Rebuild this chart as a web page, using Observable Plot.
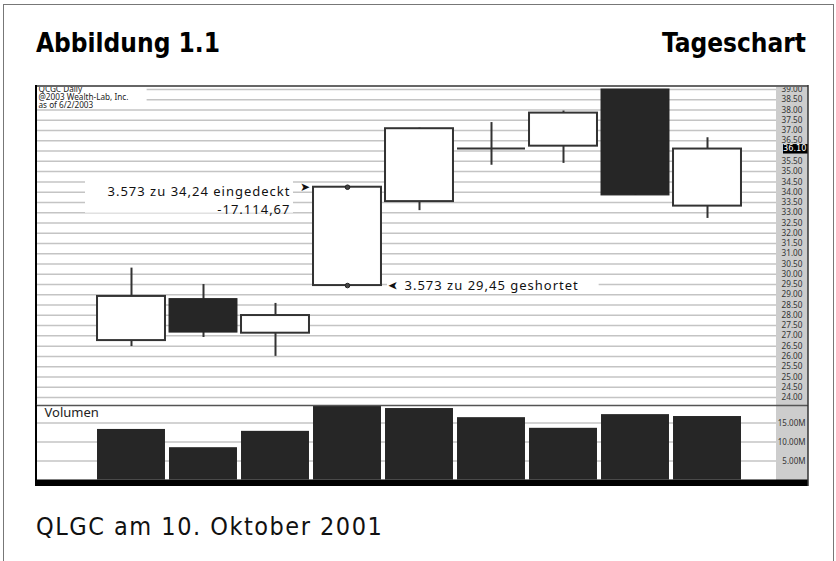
<!DOCTYPE html>
<html><head><meta charset="utf-8">
<script src="https://cdn.jsdelivr.net/npm/d3@7"></script>
<script src="https://cdn.jsdelivr.net/npm/@observablehq/plot@0.6"></script>
<style>
body{margin:0;background:#fff;}
#page{position:relative;width:836px;height:561px;overflow:hidden;font-family:"DejaVu Sans";background:#fff;}
#border{position:absolute;left:3px;top:4px;width:829px;height:600px;border:1.5px solid #777;border-bottom:none;}
.title{position:absolute;top:28px;font:bold 26px "DejaVu Sans Condensed";color:#000;white-space:nowrap;}
#t1{left:36px} #t2{right:30px}
#price{position:absolute;left:0;top:85px}
#vol{position:absolute;left:0;top:405px}
#cap{position:absolute;left:36px;top:512px;font:25px "DejaVu Sans Condensed";letter-spacing:1.5px;color:#111;white-space:nowrap;}
</style></head>
<body>
<div id="page">
  <div id="border"></div>
  <div class="title" id="t1">Abbildung 1.1</div>
  <div class="title" id="t2">Tageschart</div>
  <div id="price"></div>
  <div id="vol"></div>
  <div id="cap">QLGC am 10. Oktober 2001</div>
</div>
<script>
// ---- data ----
const days   = ["05.10.","08.10.","09.10.","10.10.","11.10.","12.10.","15.10.","16.10.","17.10."];
const open   = [26.77, 28.79, 27.13, 29.45, 33.54, 36.13, 36.24, 39.00, 33.32];
const high   = [30.30, 29.50, 28.58, 34.24, 37.12, 37.39, 37.95, 39.00, 36.65];
const low    = [26.48, 26.92, 26.00, 29.45, 33.10, 35.31, 35.40, 33.84, 32.72];
const close  = [28.92, 27.16, 27.99, 34.24, 37.09, 36.13, 37.85, 33.84, 36.10];
const volume = [13.3, 8.5, 12.8, 19.6, 18.8, 16.4, 13.6, 17.2, 16.7]; // millions
const priceTicks = d3.range(24, 39.001, 0.5);
const volumeTicks = [5, 10, 15];
const lastPrice = 36.10;
const header = ["QCGC Daily", "@2003 Wealth-Lab, Inc.", "as of 6/2/2003"];
const tradeDay = 3;
const coverPrice = 34.24, shortPrice = 29.45;
const coverNote = ["3.573 zu 34,24 eingedeckt", "-17.114,67"];
const shortNote = ["3.573 zu 29,45 geshortet"];
const volumeLabel = "Volumen";

// ---- layout / style ----
const W = 836, ML = 36, MR = 60, STRIP = 32;
const xDomain = [-1.3194, 8.9583];
const idx = d3.range(days.length);
const half = 0.472;
const up = idx.filter(i => close[i] > open[i]);
const down = idx.filter(i => close[i] < open[i]);
const doji = idx.filter(i => close[i] === open[i]);
const shownTicks = priceTicks.filter(t => Math.abs(t - lastPrice) > 0.2); // hidden behind the tag
const NOTE_SIZE = 13, NOTE_SPACING = 1, HEAD_SIZE = 8.2;

const ctx = document.createElement("canvas").getContext("2d");
function textWidth(s, size, spacing = 0) {
  ctx.font = `${size}px "DejaVu Sans"`;
  return ctx.measureText(s).width + spacing * s.length;
}

function stripMark() {
  return (index, scales, values, dim) => {
    const g = d3.create("svg:g");
    const xr = dim.width - dim.marginRight;
    g.append("rect").attr("x", xr).attr("y", 0).attr("width", STRIP).attr("height", dim.height).attr("fill", "#cdcdcd");
    return g.node();
  };
}

// white panels behind the texts that interrupt the grid lines
function textBacking(index, scales, values, dim) {
  const g = d3.create("svg:g").attr("fill", "white");
  const hw = d3.max(header, s => textWidth(s, HEAD_SIZE));
  g.append("rect").attr("x", dim.marginLeft + 1).attr("y", 2).attr("width", hw + 12).attr("height", 19);
  const cx = scales.x(tradeDay);
  const cw = d3.max(coverNote, s => textWidth(s, NOTE_SIZE, NOTE_SPACING));
  const cy = scales.y(coverPrice);
  g.append("rect").attr("x", cx - 57 - cw - 6).attr("y", cy - 8).attr("width", cw + 9).attr("height", 34);
  const sw = d3.max(shortNote, s => textWidth(s, NOTE_SIZE, NOTE_SPACING));
  const sy = scales.y(shortPrice);
  g.append("rect").attr("x", cx + 40).attr("y", sy - 7).attr("width", 17 + sw + 6).attr("height", 14);
  return g.node();
}

const price = Plot.plot({
  width: W, height: 320,
  marginLeft: ML, marginRight: MR, marginTop: 0, marginBottom: 0,
  style: {background: "transparent", overflow: "visible"},
  x: {domain: xDomain, axis: null},
  y: {domain: [23.608, 39.195], axis: null},
  marks: [
    stripMark(),
    Plot.ruleY(priceTicks, {stroke: "#c4c4c4", strokeWidth: 1.5}),
    textBacking,
    Plot.text([header.join("\n")], {frameAnchor: "top-left", dx: 2, dy: 0.5, lineAnchor: "top", lineHeight: 0.97,
      fontSize: HEAD_SIZE, fill: "#222", textAnchor: "start"}),
    Plot.ruleX(idx, {x: i => i, y1: i => low[i], y2: i => high[i], stroke: "#333", strokeWidth: 2}),
    Plot.rect(up, {x1: i => i - half, x2: i => i + half, y1: i => open[i], y2: i => close[i], fill: "white", stroke: "#333", strokeWidth: 2}),
    Plot.rect(down, {x1: i => i - half, x2: i => i + half, y1: i => open[i], y2: i => close[i], fill: "#262626", stroke: "#262626", strokeWidth: 1}),
    Plot.ruleY(doji, {x1: i => i - half, x2: i => i + half, y: i => open[i], stroke: "#333", strokeWidth: 2}),
    Plot.dot([coverPrice, shortPrice], {x: () => tradeDay, y: d => d, r: 2.3, fill: "#444", stroke: "#222", strokeWidth: 1}),
    Plot.text([coverNote.join("\n")], {x: () => tradeDay, y: () => coverPrice, dx: -57, dy: -5, lineAnchor: "top", lineHeight: 1.45,
      fontSize: NOTE_SIZE, textAnchor: "end", fill: "#111"}),
    Plot.text(["➤"], {x: () => tradeDay, y: () => coverPrice, dx: -42, fontSize: 12, fill: "#111"}),
    Plot.text(shortNote, {x: () => tradeDay, y: () => shortPrice, dx: 57, textAnchor: "start", fontSize: NOTE_SIZE, fill: "#111"}),
    Plot.text(["➤"], {x: () => tradeDay, y: () => shortPrice, dx: 46, rotate: 180, fontSize: 12, fill: "#111"}),
    Plot.text(shownTicks, {y: d => d, text: d => d.toFixed(2), frameAnchor: "right", dx: 26, textAnchor: "end",
      fontSize: 8.2, fill: "#333"}),
    (index, scales, values, dim) => {
      const g = d3.create("svg:g");
      const xr = dim.width - dim.marginRight;
      const yy = scales.y(lastPrice);
      g.append("rect").attr("x", xr + 7).attr("y", yy - 4.5).attr("width", STRIP - 7).attr("height", 9.5).attr("fill", "#000");
      g.append("text").attr("x", xr + 30.5).attr("y", yy).attr("dy", "0.35em").attr("text-anchor", "end")
        .attr("font-size", 8.2).attr("font-family", "DejaVu Sans").attr("fill", "#fff").text(lastPrice.toFixed(2));
      g.append("line").attr("x1", dim.marginLeft).attr("x2", xr + STRIP).attr("y1", 1).attr("y2", 1).attr("stroke", "#666").attr("stroke-width", 2);
      g.append("line").attr("x1", dim.marginLeft).attr("x2", dim.marginLeft).attr("y1", 0).attr("y2", dim.height).attr("stroke", "#000").attr("stroke-width", 2);
      g.append("line").attr("x1", xr + STRIP).attr("x2", xr + STRIP).attr("y1", 0).attr("y2", dim.height).attr("stroke", "#333").attr("stroke-width", 1.5);
      return g.node();
    }
  ]
});
// letter spacing for the trade notes
const noteLines = new Set([...coverNote, ...shortNote]);
price.querySelectorAll("text").forEach(t => {
  const lines = t.querySelectorAll("tspan").length ? [...t.querySelectorAll("tspan")].map(s => s.textContent) : [t.textContent];
  if (lines.some(l => noteLines.has(l))) t.style.letterSpacing = NOTE_SPACING + "px";
});
document.getElementById("price").appendChild(price);

const vol = Plot.plot({
  width: W, height: 81,
  marginLeft: ML, marginRight: MR, marginTop: 0, marginBottom: 6.5,
  style: {background: "transparent", overflow: "visible"},
  x: {domain: xDomain, axis: null},
  y: {domain: [0, 19.6], axis: null},
  marks: [
    stripMark(),
    Plot.ruleY(volumeTicks, {stroke: "#c4c4c4", strokeWidth: 1.5}),
    Plot.text([volumeLabel], {frameAnchor: "top-left", dx: 8, dy: 2, lineAnchor: "top", fontSize: 13, fill: "#222", textAnchor: "start"}),
    Plot.rect(idx, {x1: i => i - half, x2: i => i + half, y1: 0, y2: i => volume[i], fill: "#262626"}),
    Plot.text(volumeTicks, {y: d => d, text: d => d.toFixed(2) + "M", frameAnchor: "right", dx: 29, textAnchor: "end",
      fontSize: 8, fill: "#333"}),
    (index, scales, values, dim) => {
      const g = d3.create("svg:g");
      const xr = dim.width - dim.marginRight;
      g.append("line").attr("x1", dim.marginLeft).attr("x2", xr + STRIP).attr("y1", 0.5).attr("y2", 0.5).attr("stroke", "#555").attr("stroke-width", 1.5);
      g.append("rect").attr("x", dim.marginLeft - 1).attr("y", dim.height - dim.marginBottom).attr("width", xr + STRIP - dim.marginLeft + 1).attr("height", dim.marginBottom).attr("fill", "#000");
      g.append("line").attr("x1", dim.marginLeft).attr("x2", dim.marginLeft).attr("y1", 0).attr("y2", dim.height).attr("stroke", "#000").attr("stroke-width", 2);
      g.append("line").attr("x1", xr + STRIP).attr("x2", xr + STRIP).attr("y1", 0).attr("y2", dim.height).attr("stroke", "#333").attr("stroke-width", 1.5);
      return g.node();
    }
  ]
});
document.getElementById("vol").appendChild(vol);
</script>
</body></html>
